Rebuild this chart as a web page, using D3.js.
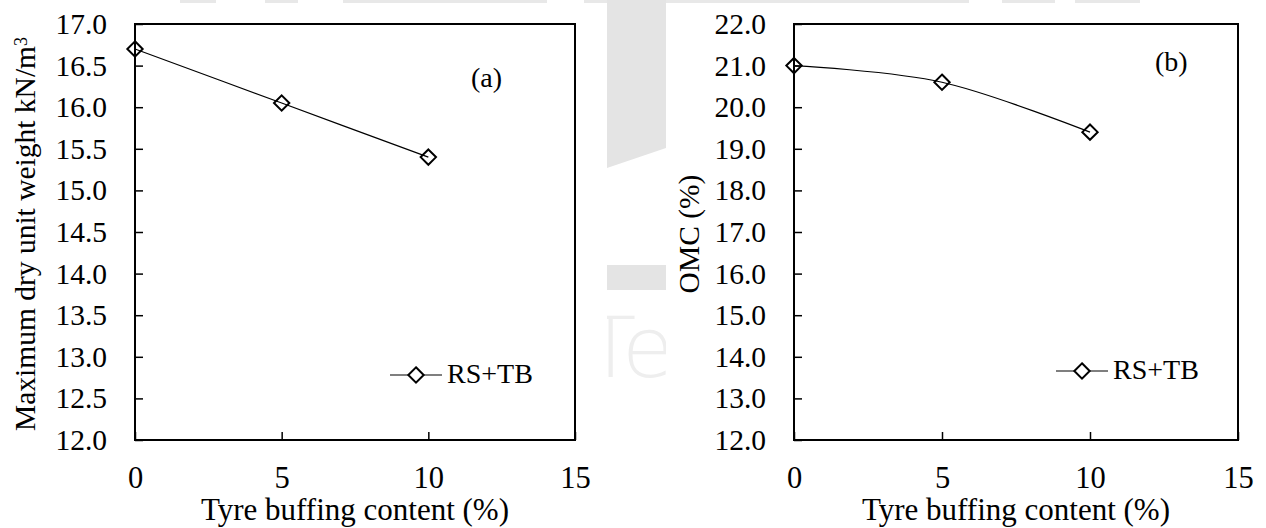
<!DOCTYPE html>
<html>
<head>
<meta charset="utf-8">
<script src="https://cdn.jsdelivr.net/npm/d3@7"></script>
<style>
  html, body { margin: 0; padding: 0; background: #fff; }
  svg { display: block; }
</style>
</head>
<body>
<svg id="chart" width="1266" height="528"></svg>
<script>
// Tyre buffing content (%) tested
const tyreContent = [0, 5, 10];
// Panel (a): maximum dry unit weight (kN/m3)
const maxDryUnitWeight = [16.7, 16.05, 15.4];
// Panel (b): optimum moisture content (%)
const omcValues = [21.0, 20.6, 19.4];

const xTicks = [0, 5, 10, 15];
const yTicksA = [12.0, 12.5, 13.0, 13.5, 14.0, 14.5, 15.0, 15.5, 16.0, 16.5, 17.0];
const yTicksB = [12.0, 13.0, 14.0, 15.0, 16.0, 17.0, 18.0, 19.0, 20.0, 21.0, 22.0];
const seriesName = "RS+TB";

const SERIF = "Liberation Serif, DejaVu Serif, serif";
const svg = d3.select("#chart");

// faint background logo behind the figure
const wm = svg.append("g").attr("class", "backdrop");
[[180, 216], [265, 298], [343, 547], [584, 969], [1002, 1055], [1075, 1140]].forEach(([a, b]) => {
  wm.append("rect").attr("x", a).attr("y", 0).attr("width", b - a).attr("height", 3).attr("fill", "#e8e8e8");
});
wm.append("polygon").attr("points", "607,0 666,0 666,148 607,168").attr("fill", "#e4e4e4");
wm.append("rect").attr("x", 607).attr("y", 265).attr("width", 59).attr("height", 25).attr("fill", "#e4e4e4");
svg.append("clipPath").attr("id", "wmclip")
  .append("rect").attr("x", 607).attr("y", 300).attr("width", 59).attr("height", 90);
wm.append("text")
  .attr("clip-path", "url(#wmclip)")
  .attr("x", 585).attr("y", 377)
  .attr("font-family", "DejaVu Sans")
  .attr("font-size", 84)
  .attr("font-weight", 200)
  .attr("fill", "#eeeeee")
  .text("Te");

function styleText(sel, size) {
  return sel.attr("font-family", SERIF).attr("font-size", size).attr("fill", "#000");
}

function panel(opts) {
  const { left, right, top, bottom, yDomain, yTicks, values, yTitle, yTitleX, tag, tagX, tagY, legX, legY } = opts;
  const g = svg.append("g");
  const x = d3.scaleLinear().domain([0, 15]).range([left, right]);
  const y = d3.scaleLinear().domain(yDomain).range([bottom, top]);

  // y axis with inward ticks
  const ya = g.append("g").attr("transform", `translate(${left},0)`)
    .call(d3.axisLeft(y).tickValues(yTicks).tickFormat(d3.format(".1f")).tickSize(-8).tickPadding(28));
  ya.attr("font-family", SERIF).attr("font-size", 29);
  ya.select(".domain").remove();
  ya.selectAll(".tick line").attr("stroke", "#000").attr("stroke-width", 1.5);
  styleText(ya.selectAll(".tick text"), 29.5);

  // x axis with inward ticks
  const xa = g.append("g").attr("transform", `translate(0,${bottom})`)
    .call(d3.axisBottom(x).tickValues(xTicks).tickFormat(d3.format("d")).tickSize(-8).tickPadding(26));
  xa.attr("font-family", SERIF).attr("font-size", 30);
  xa.select(".domain").remove();
  xa.selectAll(".tick line").attr("stroke", "#000").attr("stroke-width", 1.5);
  styleText(xa.selectAll(".tick text"), 30.5);

  // plot frame
  g.append("rect").attr("x", left).attr("y", top)
    .attr("width", right - left).attr("height", bottom - top)
    .attr("fill", "none").attr("stroke", "#000").attr("stroke-width", 2);

  // data line
  const pts = tyreContent.map((t, i) => [x(t), y(values[i])]);
  g.append("path")
    .attr("d", d3.line().curve(d3.curveCardinal.tension(0))(pts))
    .attr("fill", "none").attr("stroke", "#000").attr("stroke-width", 1.2);

  const diamond = d3.symbol().type(d3.symbolDiamond2).size(150);
  g.selectAll("path.mk").data(pts).join("path").attr("class", "mk")
    .attr("transform", d => `translate(${d[0]},${d[1]})`)
    .attr("d", diamond)
    .attr("fill", "none").attr("stroke", "#000").attr("stroke-width", 2);

  // axis titles
  styleText(g.append("text"), 31)
    .attr("x", (left + right) / 2).attr("y", 520)
    .attr("text-anchor", "middle")
    .text("Tyre buffing content (%)");

  const yt = styleText(g.append("text"), 29.5)
    .attr("transform", `translate(${yTitleX},${(top + bottom) / 2 + 2}) rotate(-90)`)
    .attr("text-anchor", "middle");
  yt.append("tspan").text(yTitle.main);
  if (yTitle.sup) {
    yt.append("tspan").attr("dy", "-0.45em").attr("font-size", 18).text(yTitle.sup);
  }

  // panel tag
  styleText(g.append("text"), 28).attr("x", tagX).attr("y", tagY).text(tag);

  // legend
  g.append("line").attr("x1", legX).attr("x2", legX + 52).attr("y1", legY).attr("y2", legY)
    .attr("stroke", "#000").attr("stroke-width", 1.2);
  g.append("path").attr("transform", `translate(${legX + 26},${legY})`).attr("d", diamond)
    .attr("fill", "#fff").attr("stroke", "#000").attr("stroke-width", 2);
  styleText(g.append("text"), 28).attr("x", legX + 57).attr("y", legY + 8).text(seriesName);
}

panel({
  left: 135, right: 575, top: 24, bottom: 440,
  yDomain: [12, 17], yTicks: yTicksA, values: maxDryUnitWeight,
  yTitle: { main: "Maximum dry unit weight kN/m", sup: "3" }, yTitleX: 35,
  tag: "(a)", tagX: 471, tagY: 87, legX: 390, legY: 375
});

panel({
  left: 794, right: 1238, top: 24, bottom: 440,
  yDomain: [12, 22], yTicks: yTicksB, values: omcValues,
  yTitle: { main: "OMC (%)" }, yTitleX: 699,
  tag: "(b)", tagX: 1155, tagY: 71, legX: 1056, legY: 371
});
</script>
</body>
</html>
